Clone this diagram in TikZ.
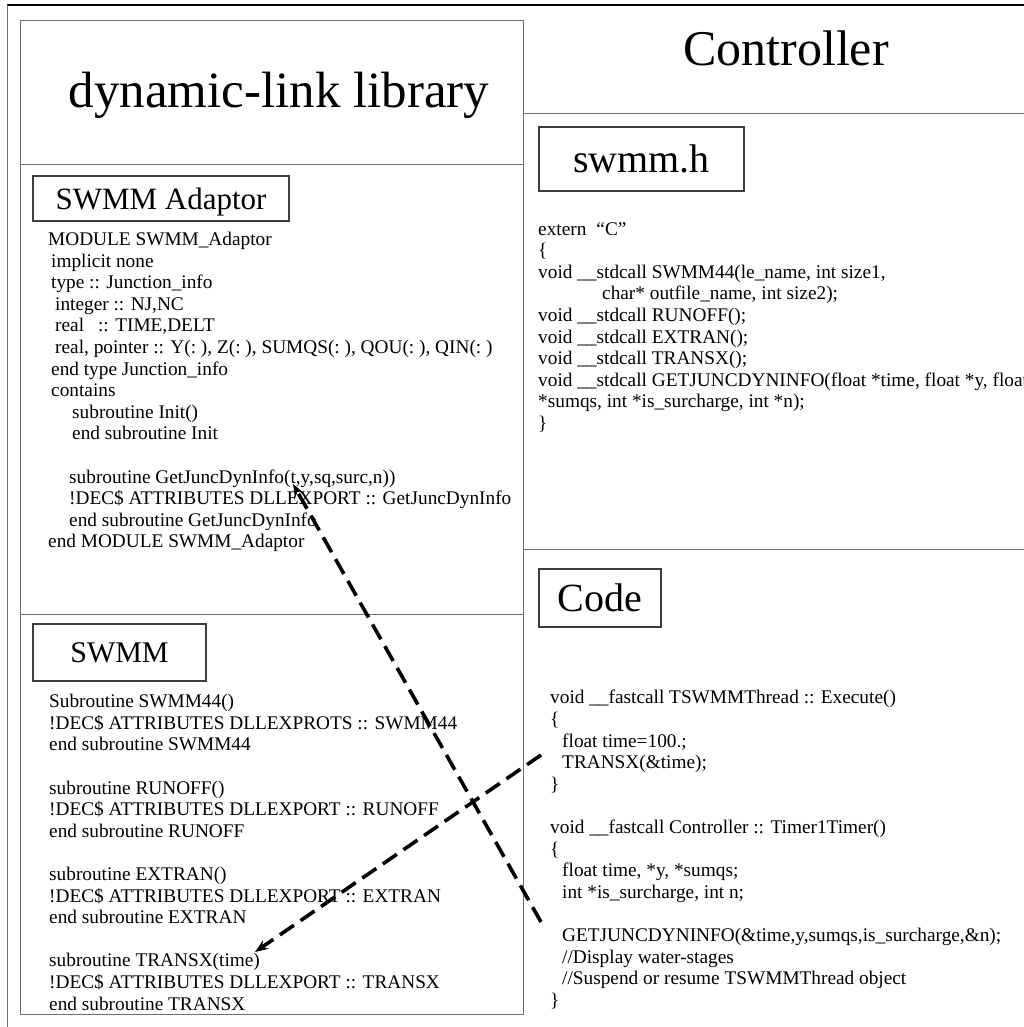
\documentclass[tikz,border=0pt]{standalone}
\usepackage{fontspec}
\setmainfont{Liberation Serif}
\usetikzlibrary{arrows.meta}
\usetikzlibrary{positioning}
\definecolor{linegray}{RGB}{110,110,110}
\definecolor{boxgray}{RGB}{60,60,60}

\begin{document}
\begin{tikzpicture}[x=1pt,y=-1pt]
\useasboundingbox (0,0) rectangle (1024,1027);
% outer frame, cut off at the right and at the bottom
\draw[line width=1.5pt] (7,5) -- (1030,5);
\draw[linegray,line width=1pt] (7,5) -- (7,1030);
% panels
\begin{scope}[linegray,line width=1pt]
    \draw (20,21) rectangle (523,1014);
    \draw (20,165) -- (523,165);
    \draw (20,614) -- (523,614);
    \draw (523,114) -- (1030,114);
    \draw (523,549) -- (1030,549);
\end{scope}
% titles
\begin{scope}[every node/.style={anchor=base,inner sep=0}]
    \node[font=\fontsize{51}{60}\selectfont] (dll) at (279,108) {dynamic-link library};
    \node[font=\fontsize{50}{60}\selectfont] (ctrl) at (786,66) {Controller};
\end{scope}
% section boxes
\begin{scope}[every node/.style={draw=boxgray,line width=1.2pt,inner sep=0,text depth=0pt}]
    \node[minimum width=256pt,minimum height=45pt,font=\fontsize{31}{36}\selectfont] (adaptor) at (161,198.5) {SWMM Adaptor};
    \node[minimum width=173pt,minimum height=57pt,font=\fontsize{30}{36}\selectfont] (swmm) at (119.5,652.5) {SWMM};
    \node[minimum width=205pt,minimum height=64pt,font=\fontsize{40}{48}\selectfont] (header) at (641.5,159) {swmm.h};
    \node[minimum width=122pt,minimum height=58pt,font=\fontsize{40}{48}\selectfont] (code) at (600,598) {Code};
\end{scope}
% listings
\begin{scope}[every node/.style={align=left,anchor=north west,inner sep=0,font=\fontsize{19.3}{21.6}\selectfont}]
    \node (adaptorsrc) at (48,232) {MODULE SWMM\_Adaptor\\
\hspace*{3pt}implicit none\\
\hspace*{3pt}type :: Junction\_info\\
\hspace*{7pt}integer :: NJ,NC\\
\hspace*{7pt}real\hspace*{14pt}:: TIME,DELT\\
\hspace*{7pt}real, pointer :: Y(:\ ), Z(:\ ), SUMQS(:\ ), QOU(:\ ), QIN(:\ )\\
\hspace*{3pt}end type Junction\_info\\
\hspace*{3pt}contains\\
\hspace*{24pt}subroutine Init()\\
\hspace*{24pt}end subroutine Init\\[21.6pt]
\hspace*{21pt}subroutine GetJuncDynInfo(t,y,sq,surc,n))\\
\hspace*{21pt}!DEC\$ ATTRIBUTES DLLEXPORT :: GetJuncDynInfo\\
\hspace*{21pt}end subroutine GetJuncDynInfo\\
end MODULE SWMM\_Adaptor};
    \node (swmmsrc) at (49,694) {Subroutine SWMM44()\\
!DEC\$ ATTRIBUTES DLLEXPROTS :: SWMM44\\
end subroutine SWMM44\\[21.6pt]
subroutine RUNOFF()\\
!DEC\$ ATTRIBUTES DLLEXPORT :: RUNOFF\\
end subroutine RUNOFF\\[21.6pt]
subroutine EXTRAN()\\
!DEC\$ ATTRIBUTES DLLEXPORT :: EXTRAN\\
end subroutine EXTRAN\\[21.6pt]
subroutine TRANSX(time)\\
!DEC\$ ATTRIBUTES DLLEXPORT :: TRANSX\\
end subroutine TRANSX};
    \node (headersrc) at (538,222) {extern\hspace*{10pt}“C”\\
\{\\
void \_\_stdcall SWMM44(le\_name, int size1,\\
\hspace*{64pt}char* outfile\_name, int size2);\\
void \_\_stdcall RUNOFF();\\
void \_\_stdcall EXTRAN();\\
void \_\_stdcall TRANSX();\\
void \_\_stdcall GETJUNCDYNINFO(float *time, float *y, float\\
*sumqs, int *is\_surcharge, int *n);\\
\}};
    \node (codesrc) at (550,690) {void \_\_fastcall TSWMMThread :: Execute()\\
\{\\
\hspace*{12pt}float time=100.;\\
\hspace*{12pt}TRANSX(\&time);\\
\}\\[21.6pt]
void \_\_fastcall Controller :: Timer1Timer()\\
\{\\
\hspace*{12pt}float time, *y, *sumqs;\\
\hspace*{12pt}int *is\_surcharge, int n;\\[21.6pt]
\hspace*{12pt}GETJUNCDYNINFO(\&time,y,sumqs,is\_surcharge,\&n);\\
\hspace*{12pt}//Display water-stages\\
\hspace*{12pt}//Suspend or resume TSWMMThread object\\
\}};
\end{scope}
% calls from the controller into the library
\coordinate (getcall) at (541,922);
\coordinate (getdef) at (293,484);
\coordinate (transcall) at (541,755);
\coordinate (transdef) at (255,952);
\begin{scope}[>={Stealth[length=13pt,width=10pt]},
              every edge/.style={draw,line width=3.6pt,dash pattern=on 17pt off 8pt}]
    \path [->] (getcall) edge (getdef);
    \path [->] (transcall) edge (transdef);
\end{scope}
\end{tikzpicture}
\end{document}
